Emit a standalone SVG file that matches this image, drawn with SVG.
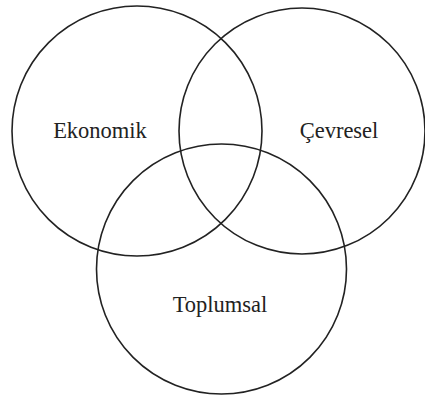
<svg xmlns="http://www.w3.org/2000/svg" width="425" height="399" viewBox="0 0 425 399">
<style>
.c{fill:none;stroke:#222;stroke-width:1.6}
.t{font-family:"Liberation Serif","Times New Roman",serif;font-size:22.5px;fill:#222;text-anchor:middle}
</style>
<rect width="425" height="399" fill="#fff"/>
<g id="ekonomik"><circle class="c" cx="137" cy="131" r="125"/><text class="t" x="100" y="138">Ekonomik</text></g>
<g id="cevresel"><circle class="c" cx="302" cy="131" r="123"/><text class="t" x="339" y="138">Çevresel</text></g>
<g id="toplumsal"><circle class="c" cx="221.5" cy="269" r="125"/><text class="t" x="220" y="312">Toplumsal</text></g>
<g id="connectors"/>
</svg>
